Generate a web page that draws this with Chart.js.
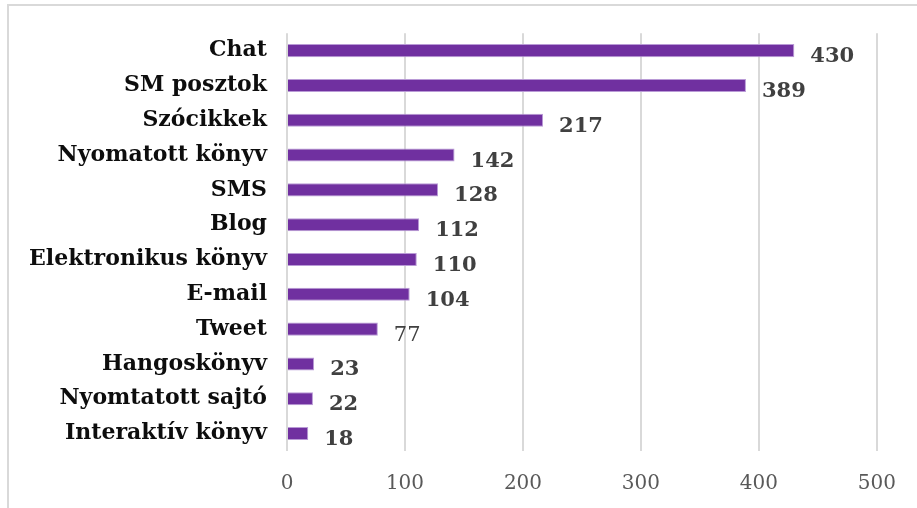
<!DOCTYPE html>
<html>
<head>
<meta charset="utf-8">
<script src="https://cdn.jsdelivr.net/npm/chart.js@4"></script>
<style>
  html, body { margin: 0; padding: 0; background: #fff; }
  #wrap { position: relative; width: 917px; height: 508px; }
  #frame { position: absolute; left: 7px; top: 4px; right: -5px; bottom: -5px; border-top: 2px solid #d9d9d9; border-left: 2px solid #d9d9d9; }
  canvas { position: absolute; left: 0; top: 0; }
</style>
</head>
<body>
<div id="wrap">
  <div id="frame"></div>
  <canvas id="chart" width="917" height="508"></canvas>
</div>
<script>
// kategóriák és értékek
const categories = ['Chat', 'SM posztok', 'Szócikkek', 'Nyomatott könyv', 'SMS', 'Blog',
  'Elektronikus könyv', 'E-mail', 'Tweet', 'Hangoskönyv', 'Nyomtatott sajtó', 'Interaktív könyv'];
const values = [430, 389, 217, 142, 128, 112, 110, 104, 77, 23, 22, 18];
const xTicks = [0, 100, 200, 300, 400, 500];

// a "Tweet" értéke nem félkövér az eredetin
const plainLabels = ['Tweet'];

const serif = "'DejaVu Serif', 'Liberation Serif', serif";

// értékcímkék a sávok végén
const valueLabels = {
  id: 'valueLabels',
  afterDatasetsDraw(chart) {
    const ctx = chart.ctx;
    const meta = chart.getDatasetMeta(0);
    ctx.save();
    ctx.fillStyle = '#404040';
    ctx.textBaseline = 'middle';
    ctx.textAlign = 'left';
    meta.data.forEach((bar, i) => {
      const weight = plainLabels.includes(categories[i]) ? 'normal' : 'bold';
      ctx.font = weight + ' 21px ' + serif;
      ctx.fillText(values[i], bar.x + 16, bar.y + 6);
    });
    ctx.restore();
  }
};

const ctx = document.getElementById('chart').getContext('2d');

new Chart(ctx, {
  type: 'bar',
  data: {
    labels: categories,
    datasets: [{
      data: values,
      backgroundColor: '#7030a0',
      borderColor: '#b99ad6',
      borderWidth: 1,
      barPercentage: 0.375,
      categoryPercentage: 1
    }]
  },
  options: {
    indexAxis: 'y',
    responsive: false,
    animation: false,
    layout: { padding: { left: 0, top: 33, right: 38, bottom: 0 } },
    plugins: {
      legend: { display: false },
      tooltip: { enabled: false }
    },
    scales: {
      x: {
        min: 0,
        max: 500,
        afterBuildTicks: scale => { scale.ticks = xTicks.map(v => ({ value: v })); },
        afterFit: scale => { scale.height = 57; },
        grid: { color: '#d9d9d9', lineWidth: 2, drawTicks: false },
        border: { display: false },
        ticks: {
          padding: 21,
          color: '#595959',
          font: { family: serif, size: 20 }
        }
      },
      y: {
        afterFit: scale => { scale.width = 287; },
        grid: { display: false, drawTicks: false },
        border: { display: false },
        ticks: {
          padding: 20,
          color: '#0d0d0d',
          font: { family: serif, size: 22, weight: 'bold' }
        }
      }
    }
  },
  plugins: [valueLabels]
});
</script>
</body>
</html>
